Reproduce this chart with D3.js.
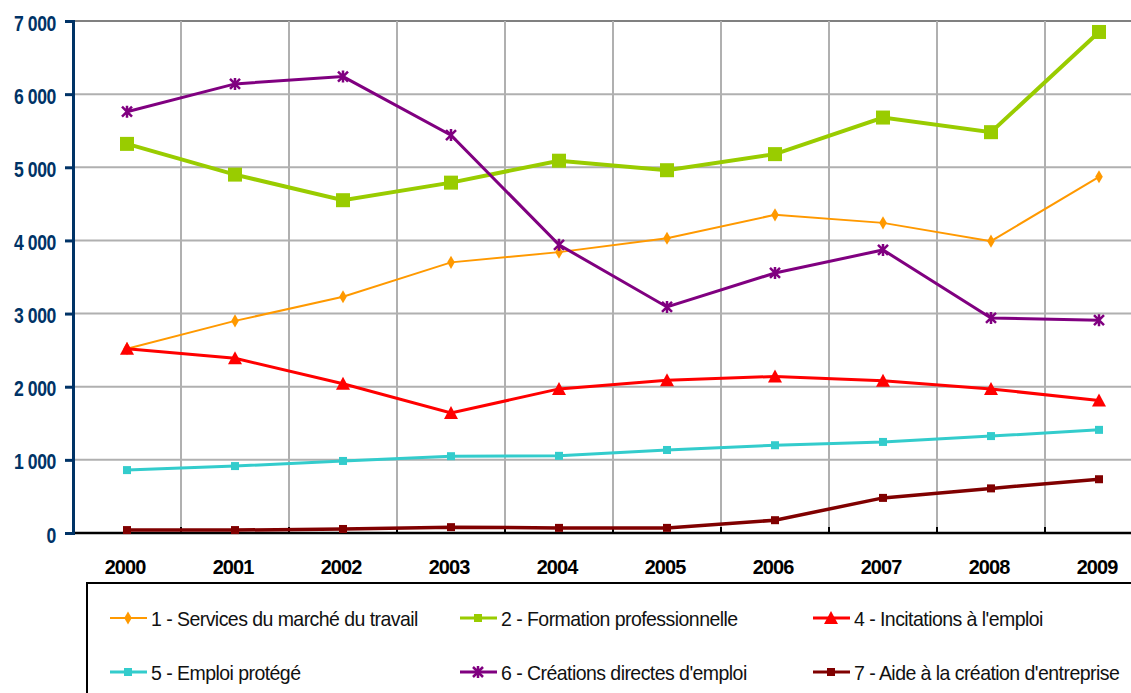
<!DOCTYPE html>
<html>
<head>
<meta charset="utf-8">
<script src="https://cdn.jsdelivr.net/npm/d3@7"></script>
<style>
  body { margin: 0; background: #fff; overflow: hidden; }
  text { font-family: "Liberation Sans", Arial, sans-serif; }
</style>
</head>
<body>
<script>
var width = 1131;
var height = 693;

// data
var years = ['2000', '2001', '2002', '2003', '2004', '2005', '2006', '2007', '2008', '2009'];
var yTicks = [0, 1000, 2000, 3000, 4000, 5000, 6000, 7000];
var services = [2520, 2900, 3230, 3700, 3840, 4030, 4350, 4240, 3990, 4870];
var formation = [5320, 4900, 4550, 4790, 5090, 4960, 5180, 5680, 5480, 6850];
var incitations = [2520, 2390, 2040, 1640, 1970, 2090, 2140, 2080, 1970, 1810];
var emploiProtege = [860, 915, 985, 1050, 1055, 1135, 1200, 1245, 1325, 1410];
var creations = [5760, 6140, 6240, 5440, 3940, 3090, 3555, 3870, 2940, 2910];
var aide = [40, 40, 55, 80, 70, 70, 175, 480, 610, 735];

var seriesNames = [
  '1 - Services du marché du travail',
  '2 - Formation professionnelle',
  '4 - Incitations à l\'emploi',
  '5 - Emploi protégé',
  '6 - Créations directes d\'emploi',
  '7 - Aide à la création d\'entreprise'
];

var series = [
  { name: seriesNames[0], values: services, color: '#ff9900', lw: 2, marker: 'diamond' },
  { name: seriesNames[1], values: formation, color: '#99cc00', lw: 4, marker: 'bigsquare' },
  { name: seriesNames[2], values: incitations, color: '#ff0000', lw: 3, marker: 'triangle' },
  { name: seriesNames[3], values: emploiProtege, color: '#33cccc', lw: 3, marker: 'square' },
  { name: seriesNames[4], values: creations, color: '#800080', lw: 3, marker: 'star' },
  { name: seriesNames[5], values: aide, color: '#800000', lw: 3.5, marker: 'square' }
];

var margin = { left: 73, top: 21, bottom: 533 };

var x = d3.scaleBand().domain(years).range([margin.left, margin.left + 108 * years.length]);
var y = d3.scaleLinear().domain([0, 7000]).range([margin.bottom, margin.top]);

var svg = d3.select('body')
  .append('svg')
  .attr('width', width)
  .attr('height', height);

// horizontal gridlines
svg.append('g')
  .selectAll('line')
  .data(yTicks.filter(function(d) { return d > 0; }))
  .enter()
  .append('line')
  .attr('x1', margin.left)
  .attr('x2', width)
  .attr('y1', function(d) { return y(d); })
  .attr('y2', function(d) { return y(d); })
  .attr('stroke', function(d) { return d == 7000 ? '#808080' : '#b0b0b0'; })
  .attr('stroke-width', 2);

// vertical gridlines between categories
svg.append('g')
  .selectAll('line')
  .data(years.slice(1))
  .enter()
  .append('line')
  .attr('x1', function(d) { return x(d); })
  .attr('x2', function(d) { return x(d); })
  .attr('y1', margin.top)
  .attr('y2', margin.bottom)
  .attr('stroke', '#b0b0b0')
  .attr('stroke-width', 2);

// x axis
var xAxis = d3.axisBottom(x).tickSize(0).tickPadding(0);
var gx = svg.append('g')
  .attr('transform', 'translate(0,' + margin.bottom + ')')
  .call(xAxis);
gx.select('.domain').remove();
gx.selectAll('text')
  .attr('y', 0)
  .attr('dy', 0)
  .attr('transform', 'translate(-2,41) scale(0.95,1)')
  .attr('font-size', 21)
  .attr('font-weight', 'bold')
  .attr('fill', '#000')
  .attr('letter-spacing', -1);

svg.append('line')
  .attr('x1', margin.left)
  .attr('x2', width)
  .attr('y1', margin.bottom)
  .attr('y2', margin.bottom)
  .attr('stroke', '#000')
  .attr('stroke-width', 2.5);

svg.append('g')
  .selectAll('line')
  .data(years.slice(1))
  .enter()
  .append('line')
  .attr('x1', function(d) { return x(d); })
  .attr('x2', function(d) { return x(d); })
  .attr('y1', margin.bottom - 6)
  .attr('y2', margin.bottom)
  .attr('stroke', '#000')
  .attr('stroke-width', 2);

// y axis
var yAxis = d3.axisLeft(y)
  .tickValues(yTicks)
  .tickSize(8)
  .tickPadding(0)
  .tickFormat(function(d) { return d3.format(',')(d).replace(',', ' '); });
var gy = svg.append('g')
  .attr('transform', 'translate(' + margin.left + ',0)')
  .call(yAxis);
gy.select('.domain')
  .attr('stroke', '#003366')
  .attr('stroke-width', 3);
gy.selectAll('.tick line')
  .attr('stroke', '#003366')
  .attr('stroke-width', 3);
gy.selectAll('text')
  .attr('x', 0)
  .attr('dy', 0)
  .attr('transform', 'translate(-17,9) scale(0.8,1)')
  .attr('font-size', 22)
  .attr('font-weight', 'bold')
  .attr('fill', '#003366')
  .attr('letter-spacing', -0.5);

// markers
function drawMarker(g, type, color) {
  if (type == 'bigsquare') {
    g.append('rect').attr('x', -7).attr('y', -7).attr('width', 14).attr('height', 14).attr('fill', color);
  } else if (type == 'square') {
    g.append('rect').attr('x', -4).attr('y', -4).attr('width', 8).attr('height', 8).attr('fill', color);
  } else if (type == 'triangle') {
    g.append('path').attr('d', 'M0,-7L7,6L-7,6Z').attr('fill', color);
  } else if (type == 'diamond') {
    g.append('path').attr('d', d3.symbol().type(d3.symbolDiamond).size(50)()).attr('fill', color);
  } else if (type == 'star') {
    g.append('path')
      .attr('d', 'M-5,-5L5,5M-5,5L5,-5M0,-6L0,6')
      .attr('stroke', color)
      .attr('stroke-width', 2.5)
      .attr('fill', 'none');
  }
}

var line = d3.line()
  .x(function(d, i) { return x(years[i]) + x.bandwidth() / 2; })
  .y(function(d) { return y(d); });

series.forEach(function(s) {
  var g = svg.append('g');
  g.append('path')
    .datum(s.values)
    .attr('d', line)
    .attr('fill', 'none')
    .attr('stroke', s.color)
    .attr('stroke-width', s.lw);
  g.selectAll('g')
    .data(s.values)
    .enter()
    .append('g')
    .attr('transform', function(d, i) {
      return 'translate(' + (x(years[i]) + x.bandwidth() / 2) + ',' + y(d) + ')';
    })
    .each(function() { drawMarker(d3.select(this), s.marker, s.color); });
});

// legend
svg.append('rect')
  .attr('x', 87)
  .attr('y', 583)
  .attr('width', 1100)
  .attr('height', 200)
  .attr('fill', 'none')
  .attr('stroke', '#000')
  .attr('stroke-width', 2);

var legendCols = [110, 460, 813];
var legendRows = [618, 672];

var legend = svg.append('g')
  .selectAll('g')
  .data(series)
  .enter()
  .append('g')
  .attr('transform', function(d, i) {
    return 'translate(' + legendCols[i % 3] + ',' + legendRows[Math.floor(i / 3)] + ')';
  });

legend.append('line')
  .attr('x1', 0)
  .attr('x2', 37)
  .attr('stroke', function(d) { return d.color; })
  .attr('stroke-width', function(d) { return Math.min(d.lw, 3); });

legend.append('g')
  .attr('transform', 'translate(18,0)')
  .each(function(d) {
    var m = d.marker == 'bigsquare' ? 'square' : d.marker;
    drawMarker(d3.select(this), m, d.color);
  });

legend.append('text')
  .attr('transform', 'translate(41,8) scale(0.93,1)')
  .attr('font-size', 21)
  .attr('fill', '#111')
  .attr('letter-spacing', -0.6)
  .text(function(d) { return d.name; });
</script>
</body>
</html>
